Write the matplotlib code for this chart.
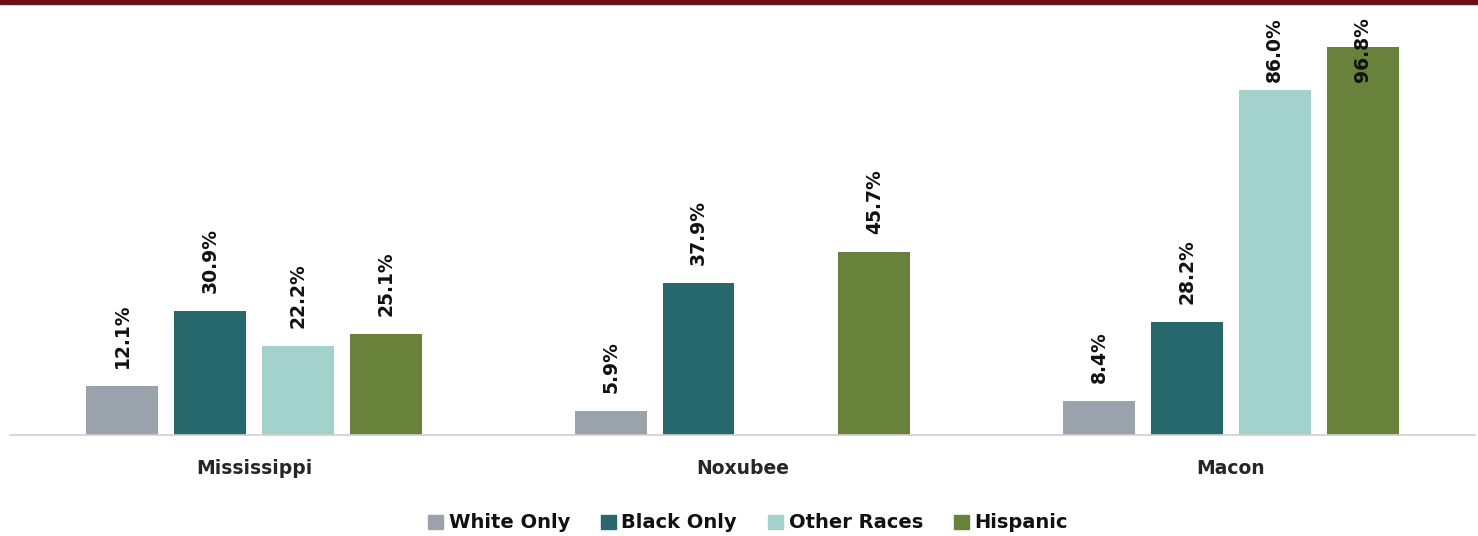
import matplotlib
matplotlib.use("Agg")
import matplotlib.pyplot as plt
import numpy as np
from matplotlib.patches import Rectangle

categories = ["Mississippi", "Noxubee", "Macon"]
series_names = ["White Only", "Black Only", "Other Races", "Hispanic"]
white_only = [12.1, 5.9, 8.4]
black_only = [30.9, 37.9, 28.2]
other_races = [22.2, None, 86.0]
hispanic = [25.1, 45.7, 96.8]
colors = ["#9aa3ab", "#27686c", "#a3d1cb", "#68823b"]

plt.rcParams['font.family'] = ['DejaVu Sans']

W, H = 1478, 536
fig = plt.figure(figsize=(W / 100, H / 100), dpi=100)
ax = fig.add_axes([10 / W, 101 / H, 1465 / W, 425 / H])

data = [white_only, black_only, other_races, hispanic]
x = np.arange(len(categories))
step = 0.18
width = 0.147
px_per_unit = 4.01
ymax = 425 / px_per_unit
ax.set_xlim(-0.5, 2.5)
ax.set_ylim(0, ymax)

label_offset = 18 / px_per_unit
label_cap = ymax - 72 / px_per_unit
for i, (vals, c, name) in enumerate(zip(data, colors, series_names)):
    pos = x + (i - 1.5) * step
    for p, v in zip(pos, vals):
        if v is None:
            continue
        ax.bar(p, v, width=width, color=c, zorder=2)
        ly = min(v + label_offset, label_cap)
        ax.text(p, ly, f"{v:.1f}%", rotation=90, ha="center", va="bottom",
                fontsize=13.5, fontweight="bold", color="#111111", zorder=3)

ax.set_xticks(x)
ax.set_xticklabels(categories, fontsize=13.5, fontweight="bold", color="#262626")
ax.tick_params(axis="x", length=0, pad=17)
ax.set_yticks([])
for s in ["top", "left", "right"]:
    ax.spines[s].set_visible(False)
ax.spines["bottom"].set_color("#d0d0d0")
ax.spines["bottom"].set_linewidth(1.2)

handles = [Rectangle((0, 0), 1, 1, color=c) for c in colors]
leg = fig.legend(handles, series_names, loc="center", bbox_to_anchor=(748 / W, 1 - 523 / H),
                 ncol=4, frameon=False, handlelength=0.75, handleheight=0.75,
                 handletextpad=0.3, columnspacing=1.6,
                 prop={"weight": "bold", "size": 14})
for t in leg.get_texts():
    t.set_color("#111111")

fig.add_artist(Rectangle((0, 1 - 3.5 / H), 1, 3.5 / H, transform=fig.transFigure,
                         color="#6b0f1a", zorder=5))

fig.savefig("out.png", dpi=100)
